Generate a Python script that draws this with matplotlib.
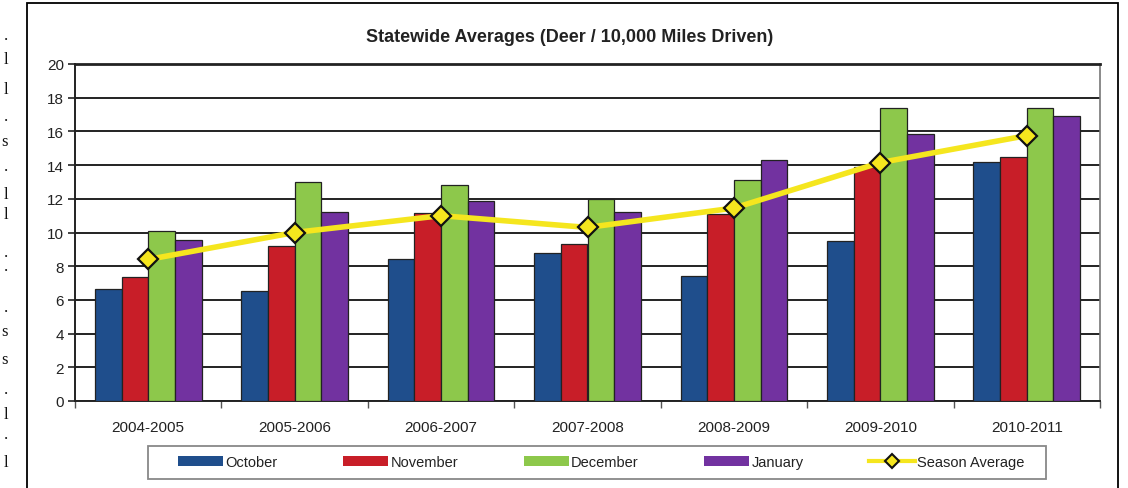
import matplotlib
matplotlib.use("Agg")
import matplotlib.pyplot as plt
import numpy as np
from matplotlib.patches import Rectangle, Patch
from matplotlib.lines import Line2D

plt.rcParams['font.family'] = ['Liberation Sans', 'DejaVu Sans']

seasons = ["2004-2005", "2005-2006", "2006-2007", "2007-2008",
           "2008-2009", "2009-2010", "2010-2011"]
october = [6.65, 6.55, 8.45, 8.8, 7.4, 9.5, 14.2]
november = [7.35, 9.2, 11.15, 9.3, 11.1, 13.9, 14.5]
december = [10.1, 13.0, 12.8, 12.0, 13.1, 17.4, 17.4]
january = [9.55, 11.2, 11.85, 11.2, 14.3, 15.85, 16.9]
season_avg = [8.4, 10.0, 11.0, 10.3, 11.45, 14.15, 15.75]

series = [("October", october, "#1f4e8c"),
          ("November", november, "#c81e28"),
          ("December", december, "#8dc84b"),
          ("January", january, "#7232a0")]

W, H = 1128, 489
fig = plt.figure(figsize=(W / 100, H / 100), dpi=100)
fig.patch.set_facecolor("white")

# outer frame
fig.add_artist(Rectangle((27 / W, -0.02), (1118 - 27) / W, (H - 4) / H + 0.02,
                         transform=fig.transFigure, fill=False,
                         edgecolor="black", linewidth=1.3))

ax = fig.add_axes([75 / W, (H - 402) / H, (1100 - 75) / W, (402 - 65) / H])
x = np.arange(len(seasons))
bw = 0.182
for j, (name, vals, col) in enumerate(series):
    ax.bar(x + (j - 1.5) * bw, vals, width=bw, color=col,
           edgecolor="#222222", linewidth=0.9, zorder=3)

ax.plot(x, season_avg, color="#f5e61e", linewidth=4, zorder=4,
        marker="D", markersize=10, markerfacecolor="#f5e61e",
        markeredgecolor="#111111", markeredgewidth=1.6)

ax.set_xlim(-0.5, len(seasons) - 0.5)
ax.set_ylim(0, 20)
ax.set_yticks(np.arange(0, 21, 2))
ax.yaxis.grid(True, color="#222222", linewidth=1.4, zorder=0)
ax.set_axisbelow(True)
ax.set_xticks(x)
ax.set_xticklabels(seasons, fontsize=11, color="#222222")
ax.tick_params(axis="x", length=0, pad=14)
ax.set_xticks(np.arange(-0.5, len(seasons), 1), minor=True)
ax.tick_params(axis="x", which="minor", length=5, color="#555555", width=1)
ax.tick_params(axis="y", length=5, width=1.2, color="#222222",
               labelsize=11, labelcolor="#222222", pad=3)
for s in ["left", "bottom"]:
    ax.spines[s].set_color("#222222")
    ax.spines[s].set_linewidth(1.4)
ax.spines["top"].set_color("#222222")
ax.spines["top"].set_linewidth(2.0)
ax.spines["right"].set_color("#777777")
ax.spines["right"].set_linewidth(1.2)

fig.text(570 / W, 1 - 38 / H, "Statewide Averages (Deer / 10,000 Miles Driven)",
         ha="center", va="center", fontsize=13, fontweight="bold",
         color="#222222")

# legend frame
fig.add_artist(Rectangle((148 / W, (H - 480) / H), (1046 - 148) / W, 33 / H,
                         transform=fig.transFigure, fill=False,
                         edgecolor="#888888", linewidth=1.3))
handles = [Patch(facecolor=c, edgecolor="none", label=n) for n, _, c in series]
handles.append(Line2D([0], [0], color="#f5e61e", linewidth=3, marker="D",
                      markersize=7, markerfacecolor="#f5e61e",
                      markeredgecolor="#111111", markeredgewidth=1.5,
                      label="Season Average"))
leg = fig.legend(handles=handles, loc="center", ncol=5,
                 bbox_to_anchor=(601 / W, 1 - 463 / H),
                 fontsize=10.5, frameon=False, handlelength=3.1,
                 handleheight=0.75, borderpad=0, handletextpad=0.15,
                 columnspacing=4.5)
for t in leg.get_texts():
    t.set_color("#222222")

# fragments of surrounding document text at the left edge
frag_chars = [".", "l", "l", ".", "s", ".", "l", "l", ".", ".", ".", "s", "s",
              ".", "l", ".", "l"]
frag_y = [36, 60, 90, 117, 142, 167, 195, 215, 253, 267, 308, 332, 360,
          390, 415, 435, 463]
for ch, yy in zip(frag_chars, frag_y):
    fig.text(8 / W, 1 - yy / H, ch, ha="right", va="center", fontsize=12,
             family="Liberation Serif", color="#111111")

fig.savefig("out.png", dpi=100)
